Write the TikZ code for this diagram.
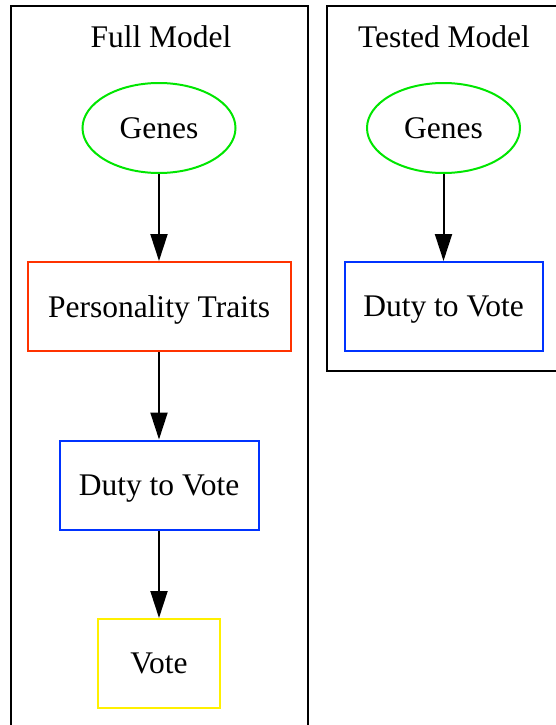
\documentclass[tikz,border=0pt]{standalone}
\usepackage{fontspec}
\setmainfont{Liberation Serif}
\usepackage{tikz}
\usetikzlibrary{arrows.meta,shapes.geometric}

\definecolor{gvgreen}{RGB}{0,230,0}
\definecolor{gvred}{RGB}{255,51,0}
\definecolor{gvblue}{RGB}{0,51,255}
\definecolor{gvyellow}{RGB}{255,240,0}

\tikzset{
  gene/.style={ellipse,draw=gvgreen,line width=2pt,minimum width=153pt,minimum height=90pt,inner sep=0pt,text depth=0pt},
  factor/.style={rectangle,draw=#1,line width=2pt,minimum height=89pt,inner sep=0pt,text depth=0pt},
  edge/.style={line width=2pt,-{Triangle[length=27pt,width=17pt]}}
}

\begin{document}
\begin{tikzpicture}[x=1pt,y=-1pt,font=\fontsize{31.5}{36}\selectfont]
\useasboundingbox (0,0) rectangle (555,725);

% full model
\draw[line width=2pt] (11,730) -- (11,6) -- (308,6) -- (308,730);
\node (fulltitle) at (161,37) {Full Model};
\node[gene] (genesA) at (159,128) {Genes};
\node[factor=gvred,minimum width=263pt] (traits) at (159,306.5) {Personality Traits};
\node[factor=gvblue,minimum width=199pt] (dutyA) at (159,485) {Duty to Vote};
\node[factor=gvyellow,minimum width=122pt] (vote) at (159,663.5) {Vote};

\draw[edge] (genesA) -- (traits);
\draw[edge] (traits) -- (dutyA);
\draw[edge] (dutyA) -- (vote);

% tested model
\draw[line width=2pt] (560,371) -- (327,371) -- (327,6) -- (560,6);
\node (testtitle) at (444,37) {Tested Model};
\node[gene] (genesB) at (443.5,128) {Genes};
\node[factor=gvblue,minimum width=198pt] (dutyB) at (443.5,306.5) {Duty to Vote};

\draw[edge] (genesB) -- (dutyB);
\end{tikzpicture}
\end{document}
